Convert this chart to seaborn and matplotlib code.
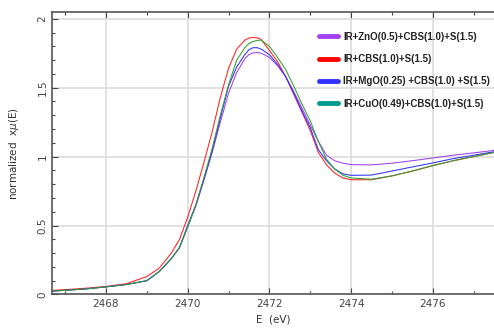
import numpy as np
import pandas as pd
import matplotlib
matplotlib.use("Agg")
import matplotlib.pyplot as plt
from matplotlib.ticker import MultipleLocator
import seaborn as sns

sns.set_style("white")
plt.rcParams['font.family'] = ['DejaVu Sans']

energy = [2466.7, 2467.0, 2467.5, 2468.0, 2468.5, 2469.0, 2469.3, 2469.6, 2469.8,
          2470.0, 2470.2, 2470.4, 2470.6, 2470.8, 2471.0, 2471.2, 2471.4, 2471.5,
          2471.6, 2471.7, 2471.8, 2472.0, 2472.2, 2472.4, 2472.6, 2472.8, 2473.0,
          2473.2, 2473.4, 2473.6, 2473.8, 2474.0, 2474.5, 2475.0, 2475.5, 2476.0,
          2476.5, 2477.0, 2477.5]

zno = [0.025, 0.03, 0.04, 0.055, 0.072, 0.10, 0.165, 0.26, 0.34,
       0.49, 0.64, 0.83, 1.03, 1.25, 1.46, 1.61, 1.71, 1.74,
       1.752, 1.755, 1.75, 1.72, 1.66, 1.58, 1.47, 1.35, 1.23,
       1.11, 1.01, 0.97, 0.952, 0.942, 0.94, 0.952, 0.97, 0.99,
       1.01, 1.027, 1.045]

cbs = [0.03, 0.035, 0.045, 0.058, 0.078, 0.13, 0.19, 0.30, 0.40,
       0.56, 0.75, 0.96, 1.18, 1.43, 1.64, 1.78, 1.845, 1.86,
       1.864, 1.862, 1.85, 1.77, 1.69, 1.58, 1.45, 1.32, 1.19,
       1.03, 0.94, 0.88, 0.845, 0.832, 0.832, 0.86, 0.895, 0.934,
       0.97, 1.0, 1.03]

mgo = [0.025, 0.03, 0.04, 0.055, 0.072, 0.10, 0.165, 0.26, 0.34,
       0.50, 0.65, 0.84, 1.04, 1.28, 1.51, 1.65, 1.74, 1.775,
       1.79, 1.79, 1.78, 1.74, 1.67, 1.58, 1.46, 1.33, 1.21,
       1.05, 0.97, 0.91, 0.875, 0.864, 0.866, 0.895, 0.925, 0.954,
       0.985, 1.01, 1.035]

cuo = [0.025, 0.03, 0.04, 0.055, 0.072, 0.10, 0.165, 0.26, 0.34,
       0.49, 0.65, 0.85, 1.06, 1.30, 1.52, 1.70, 1.79, 1.82,
       1.835, 1.843, 1.845, 1.80, 1.72, 1.63, 1.51, 1.38, 1.26,
       1.11, 0.98, 0.91, 0.865, 0.845, 0.836, 0.86, 0.895, 0.935,
       0.97, 1.0, 1.03]

labels = ["IR+ZnO(0.5)+CBS(1.0)+S(1.5)",
          "IR+CBS(1.0)+S(1.5)",
          "IR+MgO(0.25) +CBS(1.0) +S(1.5)",
          "IR+CuO(0.49)+CBS(1.0)+S(1.5)"]
line_colors = ["#a040f0", "#ff2020", "#3030ff", "#30a030"]
legend_colors = ["#a040f0", "#ff0000", "#3030ff", "#009a90"]

df = pd.concat([
    pd.DataFrame({"E": energy, "mu": vals, "sample": lab})
    for vals, lab in zip([zno, cbs, mgo, cuo], labels)
])

fig = plt.figure(figsize=(4.94, 3.29), dpi=100)
ax = fig.add_axes([0.105, 0.105, 0.895, 0.859])

sns.lineplot(data=df, x="E", y="mu", hue="sample", hue_order=labels,
             palette=dict(zip(labels, line_colors)), linewidth=0.75, ax=ax)

ax.set_xlim(2466.675, 2477.5)
ax.set_ylim(0, 2.05)
ax.xaxis.set_major_locator(MultipleLocator(2))
ax.xaxis.set_minor_locator(MultipleLocator(1))
ax.yaxis.set_major_locator(MultipleLocator(0.5))
ax.yaxis.set_minor_locator(MultipleLocator(0.1))
ax.set_yticks([0, 0.5, 1, 1.5, 2])
ax.set_yticklabels(["0", "0.5", "1", "1.5", "2"], rotation=90, va="center")
ax.grid(True, which="major", color="#dcdcdc", linewidth=1.2)
ax.tick_params(which="both", direction="in", top=True, left=True, bottom=True,
               labelsize=7.5, colors="#444444", pad=3)
ax.tick_params(which="major", length=4, width=0.8)
ax.tick_params(which="minor", length=2, width=0.8)
for s in ["left", "bottom", "top"]:
    ax.spines[s].set_color("#555555")
    ax.spines[s].set_linewidth(1.2)
ax.spines["right"].set_visible(False)

ax.set_xlabel("E  (eV)", fontsize=7.5, color="#333333", labelpad=4)
ax.set_ylabel("normalized  x$\\mu$(E)", fontsize=7.5, color="#333333", labelpad=12)

handles, _ = ax.get_legend_handles_labels()
for h, c in zip(handles, legend_colors):
    h.set_color(c)
    h.set_linewidth(3.5)
leg = ax.legend(handles, labels, loc="upper left", bbox_to_anchor=(0.585, 0.96),
                frameon=False, handlelength=1.9, handletextpad=0.55,
                labelspacing=1.26,
                prop={"family": "Liberation Sans", "size": 7, "weight": "bold"})
for t in leg.get_texts():
    t.set_color("#222222")

fig.savefig("out.png", dpi=100)
